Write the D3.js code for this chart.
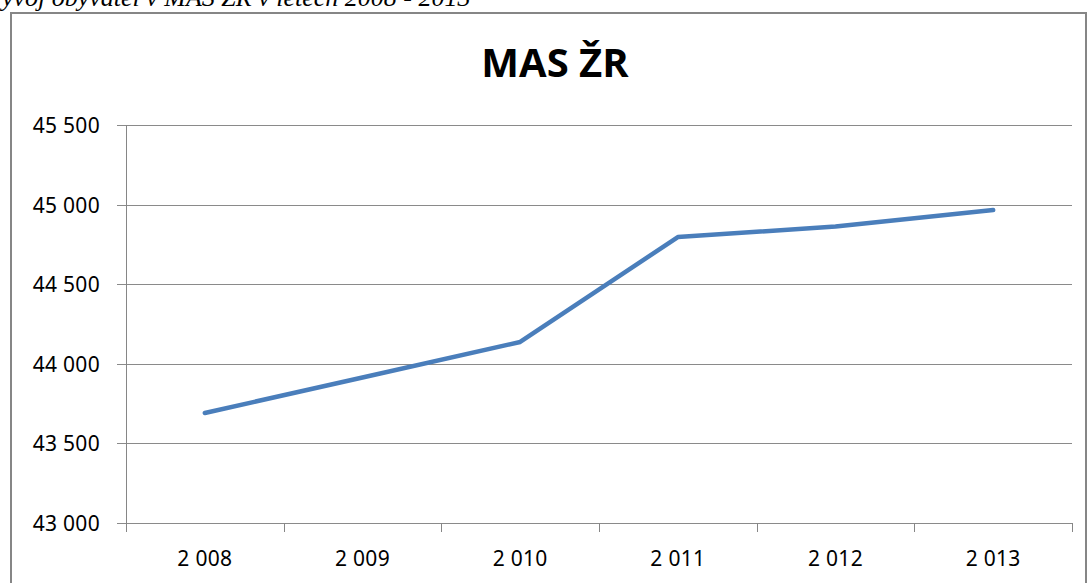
<!DOCTYPE html>
<html>
<head>
<meta charset="utf-8">
<script src="https://cdn.jsdelivr.net/npm/d3@7"></script>
<style>
  body { margin: 0; background: #fff; overflow: hidden; }
  svg { display: block; }
</style>
</head>
<body>
<div id="chart"></div>
<script>
var years = ["2 008", "2 009", "2 010", "2 011", "2 012", "2 013"];
var population = [43691, 43914, 44137, 44796, 44862, 44966];
var yTicks = [43000, 43500, 44000, 44500, 45000, 45500];

window.onload = function(){
    var width = 1088, height = 583;
    var plot = {left: 126, right: 1072, top: 125, bottom: 523};

    var svg = d3.select("#chart")
        .append("svg")
        .attr("width", width)
        .attr("height", height);

    // caption above the chart (cut off by the page top, as in the source)
    svg.append("text")
        .attr("x", -14)
        .attr("y", 6)
        .style("font-family", "'Liberation Serif', 'Times New Roman', serif")
        .style("font-style", "italic")
        .style("font-size", "26px")
        .style("fill", "#000")
        .text("Vývoj obyvatel v MAS ŽR v letech 2008 - 2013");

    // chart frame
    svg.append("rect")
        .attr("x", 11)
        .attr("y", 13)
        .attr("width", 1075)
        .attr("height", 600)
        .style("fill", "none")
        .style("stroke", "#868686")
        .style("stroke-width", 2);

    svg.append("text")
        .attr("x", 555)
        .attr("y", 77)
        .attr("text-anchor", "middle")
        .style("font-family", "'Open Sans', sans-serif")
        .style("font-weight", "bold")
        .style("font-size", "40px")
        .style("fill", "#000")
        .text("MAS ŽR");

    var x = d3.scaleBand()
        .domain(years)
        .range([plot.left, plot.right])
        .padding(0);

    var y = d3.scaleLinear()
        .domain([43000, 45500])
        .range([plot.bottom, plot.top]);

    var fmt = function(d){ return d3.format(",")(d).replace(",", " "); };

    // gridlines + y labels
    var grid = svg.append("g");
    grid.selectAll("line")
        .data(yTicks)
        .enter()
        .append("line")
          .attr("x1", plot.left - 9)
          .attr("x2", plot.right)
          .attr("y1", function(d){ return Math.round(y(d)) + 0.5; })
          .attr("y2", function(d){ return Math.round(y(d)) + 0.5; })
          .style("stroke", "#8a8a8a")
          .style("stroke-width", 1);
    grid.selectAll("text")
        .data(yTicks)
        .enter()
        .append("text")
          .attr("x", plot.left - 26)
          .attr("y", function(d){ return y(d) + 8; })
          .attr("text-anchor", "end")
          .style("font-family", "'Noto Sans', sans-serif")
          .style("font-size", "21px")
          .style("letter-spacing", "0.3px")
          .style("fill", "#000")
          .text(fmt);

    // y axis line
    svg.append("line")
        .attr("x1", plot.left + 0.5).attr("x2", plot.left + 0.5)
        .attr("y1", plot.top).attr("y2", plot.bottom + 9)
        .style("stroke", "#868686");

    // x axis boundaries
    var bounds = years.map(function(d){ return x(d); }).concat([plot.right]);
    svg.append("g").selectAll("line")
        .data(bounds)
        .enter()
        .append("line")
          .attr("x1", function(d){ return Math.round(d) + 0.5; })
          .attr("x2", function(d){ return Math.round(d) + 0.5; })
          .attr("y1", plot.bottom)
          .attr("y2", plot.bottom + 9)
          .style("stroke", "#868686");

    svg.append("g").selectAll("text")
        .data(years)
        .enter()
        .append("text")
          .attr("x", function(d){ return x(d) + x.bandwidth() / 2; })
          .attr("y", 566)
          .attr("text-anchor", "middle")
          .style("font-family", "'Noto Sans', sans-serif")
          .style("font-size", "21px")
          .style("letter-spacing", "0.3px")
          .style("fill", "#000")
          .text(function(d){ return d; });

    var line = d3.line()
        .x(function(d, i){ return x(years[i]) + x.bandwidth() / 2; })
        .y(function(d){ return y(d); });

    svg.append("path")
        .datum(population)
        .attr("d", line)
        .style("fill", "none")
        .style("stroke", "#4a7ebb")
        .style("stroke-width", 4.5)
        .style("stroke-linecap", "round")
        .style("stroke-linejoin", "round");
};
</script>
</body>
</html>
